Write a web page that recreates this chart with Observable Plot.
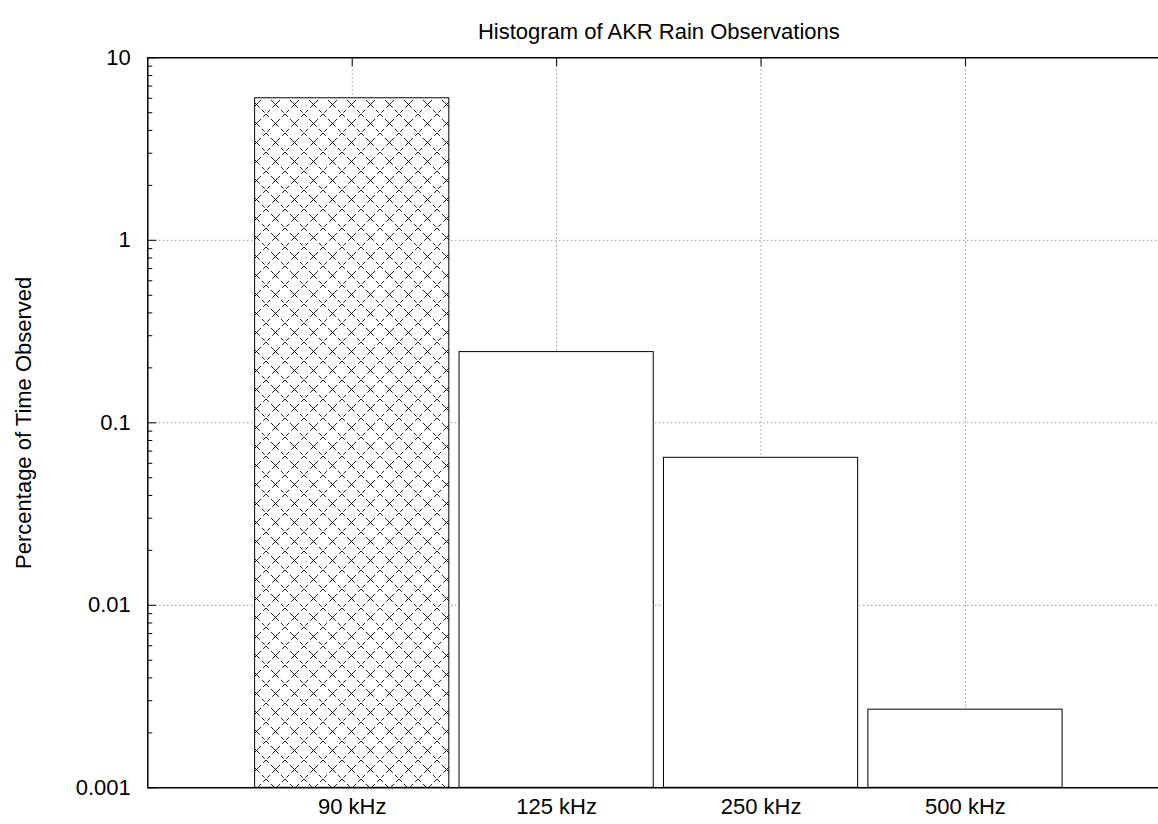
<!DOCTYPE html>
<html><head><meta charset="utf-8">
<script src="https://cdn.jsdelivr.net/npm/d3@7"></script>
<script src="https://cdn.jsdelivr.net/npm/@observablehq/plot@0.6"></script>
<style>
html,body{margin:0;padding:0;background:#fff;overflow:hidden;}
</style></head><body><div id="chart"></div>
<script>
const title = "Histogram of AKR Rain Observations";
const yLabel = "Percentage of Time Observed";
const categories = ["90 kHz", "125 kHz", "250 kHz", "500 kHz"];
const positions = [0, 1, 2, 3];
const values = [6.0, 0.244, 0.0643, 0.00268];
const barFills = ["url(#hatch)", "white", "white", "white"];
const yMajorTicks = [0.001, 0.01, 0.1, 1, 10];
const yTickLabels = ["0.001", "0.01", "0.1", "1", "10"];
const yGridValues = [0.01, 0.1, 1];
const yMinorTicks = [0.001, 0.01, 0.1, 1].flatMap(d => [2,3,4,5,6,7,8,9].map(k => d * k));

const bars = categories.map((c, i) => ({cat: c, pos: positions[i], value: values[i], fill: barFills[i]}));

const W = 1158, H = 824, mL = 147.3, mR = -11.4, mT = 57.3, mB = 36.7;
const frameW = W - mL - mR, frameH = H - mT - mB;
const halfBar = 0.475;
const FS = 22;
const grid = {stroke: "#666", strokeWidth: 1, strokeDasharray: "1,3"};

const chart = Plot.plot({
  width: W, height: H,
  marginLeft: mL, marginRight: mR, marginTop: mT, marginBottom: mB,
  style: {fontFamily: "'Liberation Sans', Arial, sans-serif", fontSize: FS + "px", background: "white", color: "black"},
  x: {type: "linear", domain: [-1, 4], axis: null},
  y: {type: "log", domain: [0.001, 10], axis: null},
  color: {type: "identity"},
  marks: [
    () => {
      const defs = d3.create("svg:defs");
      const p = defs.append("pattern").attr("id", "hatch").attr("patternUnits", "userSpaceOnUse")
        .attr("width", 19).attr("height", 19);
      p.append("rect").attr("width", 19).attr("height", 19).attr("fill", "white");
      p.append("path").attr("d", "M0,0L19,19M19,0L0,19").attr("stroke", "black")
        .attr("stroke-width", 0.9).attr("stroke-dasharray", "4,3").attr("fill", "none");
      p.append("path").attr("d", "M7.8,7.8L11.2,11.2M11.2,7.8L7.8,11.2").attr("stroke", "black").attr("stroke-width", 0.9);
      return defs.node();
    },
    Plot.ruleX(positions, grid),
    Plot.ruleY(yGridValues, grid),
    Plot.ruleX(positions, {stroke: "black", strokeWidth: 1, insetBottom: frameH - 9}),
    Plot.ruleY(yMajorTicks, {stroke: "black", strokeWidth: 1, insetRight: frameW - 9}),
    Plot.ruleY(yMinorTicks, {stroke: "black", strokeWidth: 1, insetRight: frameW - 5}),
    Plot.rect(bars, {x1: d => d.pos - halfBar, x2: d => d.pos + halfBar, y1: 0.001, y2: "value", fill: "fill", stroke: "black", strokeWidth: 1}),
    Plot.ruleX([-1], {stroke: "black", strokeWidth: 1.5}),
    Plot.ruleY([0.001, 10], {stroke: "black", strokeWidth: 1.5}),
    Plot.axisY(yMajorTicks, {tickSize: 0, tickPadding: 17, tickFormat: d => yTickLabels[yMajorTicks.indexOf(d)], label: null, fontSize: FS}),
    Plot.axisX(positions, {tickSize: 0, tickPadding: 11, tickFormat: d => categories[d], label: null, fontSize: FS}),
    Plot.text([title], {text: d => d, frameAnchor: "top", textAnchor: "middle", dy: -34, fontSize: FS}),
    Plot.text([yLabel], {text: d => d, frameAnchor: "left", textAnchor: "middle", dx: -124, rotate: -90, fontSize: FS})
  ]
});
document.getElementById("chart").appendChild(chart);
</script>
</body></html>
